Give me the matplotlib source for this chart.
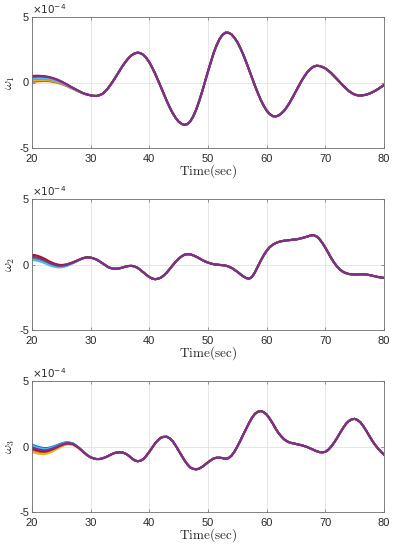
import numpy as np
import matplotlib
matplotlib.use("Agg")
import matplotlib.pyplot as plt

# time samples (sec), every 0.5 s
t = np.arange(40, 161) / 2.0

# converged response (x1e-4) (purple line)
w1 = [0.45, 0.46, 0.47, 0.46, 0.45, 0.42, 0.38, 0.32, 0.25, 0.16,
      0.06, -0.05, -0.17, -0.30, -0.42, -0.54, -0.66, -0.77, -0.86, -0.93,
      -0.98, -1.02, -1.03, -0.97, -0.87, -0.67, -0.42, -0.10, 0.23, 0.59,
      0.95, 1.30, 1.61, 1.88, 2.09, 2.22, 2.28, 2.24, 2.11, 1.87,
      1.55, 1.13, 0.67, 0.15, -0.37, -0.91, -1.43, -1.92, -2.35, -2.71,
      -2.99, -3.16, -3.24, -3.18, -2.96, -2.58, -2.06, -1.42, -0.71, 0.07,
      0.84, 1.58, 2.29, 2.87, 3.34, 3.65, 3.81, 3.80, 3.68, 3.42,
      3.09, 2.65, 2.15, 1.58, 0.98, 0.37, -0.24, -0.80, -1.33, -1.77,
      -2.14, -2.40, -2.56, -2.60, -2.53, -2.37, -2.15, -1.84, -1.48, -1.08,
      -0.66, -0.25, 0.16, 0.51, 0.83, 1.05, 1.21, 1.28, 1.26, 1.19,
      1.08, 0.91, 0.72, 0.49, 0.26, 0.02, -0.22, -0.44, -0.64, -0.80,
      -0.92, -0.98, -1.00, -0.97, -0.93, -0.85, -0.75, -0.63, -0.50, -0.35,
      -0.20]
w2 = [0.60, 0.57, 0.52, 0.44, 0.35, 0.24, 0.12, 0.03, -0.04, -0.09,
      -0.10, -0.07, -0.02, 0.06, 0.15, 0.25, 0.35, 0.45, 0.52, 0.55,
      0.53, 0.47, 0.38, 0.25, 0.10, -0.05, -0.20, -0.28, -0.32, -0.31,
      -0.28, -0.22, -0.15, -0.11, -0.10, -0.15, -0.25, -0.42, -0.60, -0.79,
      -0.95, -1.07, -1.12, -1.08, -1.00, -0.82, -0.60, -0.33, -0.05, 0.21,
      0.45, 0.62, 0.75, 0.79, 0.78, 0.70, 0.60, 0.48, 0.35, 0.24,
      0.15, 0.08, 0.02, 0.00, -0.03, -0.05, -0.08, -0.15, -0.25, -0.39,
      -0.55, -0.73, -0.90, -1.03, -1.08, -0.95, -0.60, -0.15, 0.30, 0.70,
      1.05, 1.32, 1.50, 1.63, 1.72, 1.78, 1.82, 1.85, 1.87, 1.90,
      1.92, 1.96, 2.02, 2.08, 2.15, 2.22, 2.25, 2.15, 1.95, 1.65,
      1.30, 0.90, 0.50, 0.15, -0.15, -0.38, -0.55, -0.65, -0.72, -0.75,
      -0.76, -0.76, -0.75, -0.75, -0.76, -0.80, -0.85, -0.90, -0.95, -0.99,
      -1.02]
w3 = [-0.05, -0.13, -0.20, -0.25, -0.28, -0.27, -0.22, -0.14, -0.05, 0.05,
      0.15, 0.23, 0.27, 0.25, 0.20, 0.06, -0.10, -0.30, -0.50, -0.68,
      -0.82, -0.90, -0.95, -0.95, -0.90, -0.82, -0.72, -0.60, -0.50, -0.45,
      -0.44, -0.46, -0.55, -0.70, -0.90, -1.05, -1.12, -1.08, -0.95, -0.70,
      -0.40, -0.07, 0.25, 0.50, 0.68, 0.75, 0.75, 0.62, 0.40, 0.07,
      -0.30, -0.68, -1.05, -1.36, -1.60, -1.70, -1.74, -1.68, -1.55, -1.38,
      -1.20, -1.04, -0.90, -0.85, -0.85, -0.88, -0.93, -0.88, -0.70, -0.40,
      0.00, 0.43, 0.90, 1.35, 1.80, 2.20, 2.50, 2.66, 2.72, 2.63,
      2.45, 2.15, 1.80, 1.40, 1.05, 0.78, 0.55, 0.40, 0.30, 0.25,
      0.20, 0.15, 0.10, 0.03, -0.05, -0.15, -0.25, -0.35, -0.42, -0.44,
      -0.40, -0.25, 0.00, 0.30, 0.65, 1.03, 1.40, 1.72, 1.95, 2.08,
      2.12, 2.03, 1.85, 1.55, 1.20, 0.82, 0.45, 0.13, -0.15, -0.40,
      -0.60]

# spread of the individual runs around the converged curve (t = 20..30)
spread = [1.0, 0.98, 0.95, 0.90, 0.85, 0.79, 0.72, 0.65, 0.58, 0.51,
          0.45, 0.38, 0.32, 0.26, 0.20, 0.15, 0.10, 0.07, 0.04, 0.02, 0.0]

line_colors = ["#0072BD", "#D95319", "#EDB120", "#77AC30", "#4DBEEE", "#A2142F", "#7E2F8E"]
# initial offsets of each run (x1e-4) at t = 20, per panel, in line_colors order
off1 = [-0.10, -0.40, -0.30, -0.20, -0.15, 0.05, 0.0]
off2 = [-0.12, 0.10, 0.05, -0.05, -0.25, 0.15, 0.0]
off3 = [0.20, -0.20, -0.35, -0.05, 0.12, -0.10, 0.0]

series = [w1, w2, w3]
offsets = [off1, off2, off3]
ylabels = [r"$\omega_1$", r"$\omega_2$", r"$\omega_3$"]
xticks = [20, 30, 40, 50, 60, 70, 80]
yticks = [-5, 0, 5]

fig = plt.figure(figsize=(3.95, 5.5), dpi=100)
bottoms = [0.731, 0.400, 0.069]
axcol = "#6e6e6e"
txtcol = "#2a2a2a"
for i in range(3):
    ax = fig.add_axes([0.081, bottoms[i], 0.891, 0.238])
    base = np.array(series[i])
    prof = np.zeros(len(t))
    prof[:len(spread)] = spread
    for c, o in zip(line_colors, offsets[i]):
        ax.plot(t, base + o * prof, color=c, lw=1.5, solid_joinstyle="round")
    ax.set_xlim(20, 80)
    ax.set_ylim(-5, 5)
    ax.set_xticks(xticks)
    ax.set_yticks(yticks)
    ax.set_xticklabels([str(v) for v in xticks], family="Liberation Sans", fontsize=8, color=txtcol)
    ax.set_yticklabels([str(v) for v in yticks], family="Liberation Sans", fontsize=8, color=txtcol)
    ax.tick_params(axis="x", pad=4)
    ax.tick_params(axis="y", pad=2)
    ax.tick_params(direction="in", length=2.5, width=0.5, color=axcol, top=True, right=True)
    ax.grid(True, color="#e2e2e2", lw=0.6)
    ax.set_axisbelow(True)
    for s in ax.spines.values():
        s.set_color(axcol)
        s.set_linewidth(0.6)
    ax.set_xlabel(r"$\mathrm{Time(sec)}$", fontsize=9.5, math_fontfamily="cm", labelpad=-1, color=txtcol)
    ax.set_ylabel(ylabels[i], fontsize=10, math_fontfamily="cm", labelpad=2, color=txtcol)
    ax.text(0.0, 1.005, r"$\times10^{-4}$", transform=ax.transAxes, ha="left", va="bottom",
            fontsize=7.5, color=txtcol)

fig.savefig("out.png", dpi=100)
